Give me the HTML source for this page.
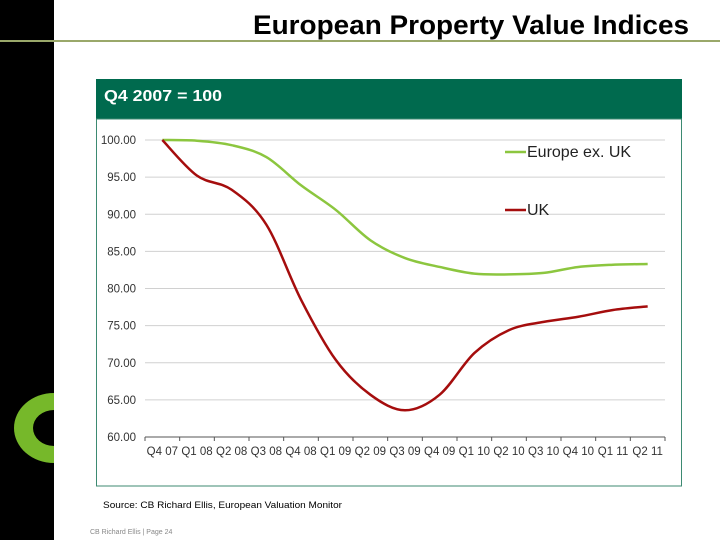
<!DOCTYPE html>
<html><head><meta charset="utf-8"><style>
html,body{margin:0;padding:0;background:#fff;}
body{width:720px;height:540px;position:relative;overflow:hidden;font-family:"Liberation Sans",Arial,sans-serif;}
</style></head><body>
<svg width="720" height="540" viewBox="0 0 720 540" xmlns="http://www.w3.org/2000/svg" style="position:absolute;left:0;top:0">
<rect x="0" y="0" width="54" height="540" fill="#000"/>
<clipPath id="cl"><rect x="0" y="0" width="54" height="540"/></clipPath>
<g clip-path="url(#cl)">
<ellipse cx="54" cy="428" rx="40" ry="35" fill="#76b82a"/>
<ellipse cx="54" cy="428" rx="21" ry="18" fill="#000"/>
</g>
<line x1="0" y1="41" x2="720" y2="41" stroke="#9aa86a" stroke-width="2"/>
<text x="253" y="34" textLength="436" lengthAdjust="spacingAndGlyphs" font-size="27" font-weight="bold" fill="#000">European Property Value Indices</text>
<rect x="96" y="79" width="586" height="40" fill="#006a4e"/>
<text x="104" y="101" textLength="118" lengthAdjust="spacingAndGlyphs" font-size="16" font-weight="bold" fill="#fff">Q4 2007 = 100</text>
<rect x="96.5" y="119" width="585" height="367" fill="#fff" stroke="#3d8a72" stroke-width="1"/>
<g id="chart"></g>
<text x="103" y="508" textLength="239" lengthAdjust="spacingAndGlyphs" font-size="9.5" fill="#000">Source: CB Richard Ellis, European Valuation Monitor</text>
<text x="90" y="534" font-size="7" fill="#888">CB Richard Ellis | Page 24</text>
</svg>
<script>
const categories=["Q4 07","Q1 08","Q2 08","Q3 08","Q4 08","Q1 09","Q2 09","Q3 09","Q4 09","Q1 10","Q2 10","Q3 10","Q4 10","Q1 11","Q2 11"];
const europeExUK=[100,99.9,99.3,97.7,93.9,90.6,86.5,84.1,82.9,82.0,81.9,82.1,82.9,83.2,83.3];
const uk=[100,95.2,93.3,88.6,78.5,70.4,65.7,63.6,65.7,71.3,74.4,75.5,76.2,77.1,77.6];
const yTicks=[60,65,70,75,80,85,90,95,100];
const NS="http://www.w3.org/2000/svg";
const g=document.getElementById('chart');
const x0=145,x1=665,yTop=140,yBot=437;
const step=(x1-x0)/categories.length;
function xs(i){return x0+step*(i+0.5);}
function ys(v){return yBot-(v-60)/40*(yBot-yTop);}
function mk(t,a){const e=document.createElementNS(NS,t);for(const k in a)e.setAttribute(k,a[k]);g.appendChild(e);return e;}
yTicks.forEach(v=>{
  if(v>60){const l=mk('line',{x1:x0,x2:x1,y1:ys(v),y2:ys(v),stroke:'#d0d0d0','stroke-width':1});
  
  }
  const t=mk('text',{x:136,y:ys(v)+4,'text-anchor':'end','font-size':11.5,fill:'#333'});
  t.textContent=v.toFixed(2);
  
  
});
const ax=mk('line',{x1:x0,x2:x1,y1:yBot,y2:yBot,stroke:'#555','stroke-width':1});


for(let i=0;i<=categories.length;i++){
  const tk=mk('line',{x1:x0+step*i,x2:x0+step*i,y1:yBot,y2:yBot+4,stroke:'#555'});
  
  
}
categories.forEach((c,i)=>{
  const t=mk('text',{x:xs(i),y:yBot+18,'text-anchor':'middle','font-size':11.5,fill:'#333'});
  t.textContent=c;
  
  
});
function path(vals){
  const p=vals.map((v,i)=>[xs(i),ys(v)]);
  let d='M'+p[0][0]+','+p[0][1];
  for(let i=0;i<p.length-1;i++){
    const a=p[Math.max(i-1,0)],b=p[i],c=p[i+1],e=p[Math.min(i+2,p.length-1)];
    const c1=[b[0]+(c[0]-a[0])/6,b[1]+(c[1]-a[1])/6],c2=[c[0]-(e[0]-b[0])/6,c[1]-(e[1]-b[1])/6];
    d+=' C'+c1+' '+c2+' '+c;
  }
  return d;
}
const pe=mk('path',{d:path(europeExUK),fill:'none',stroke:'#8cc63f','stroke-width':2.5});


const pu=mk('path',{d:path(uk),fill:'none',stroke:'#a50d0d','stroke-width':2.5});


[["Europe ex. UK",'#8cc63f',152],["UK",'#a50d0d',210]].forEach(([n,c,y])=>{
  const l=mk('line',{x1:505,x2:526,y1:y,y2:y,stroke:c,'stroke-width':2.5});
  
  
  const t=mk('text',{x:527,y:y+5,'font-size':16,fill:'#222'});
  t.textContent=n;
  
  
});
</script>
</body></html>
